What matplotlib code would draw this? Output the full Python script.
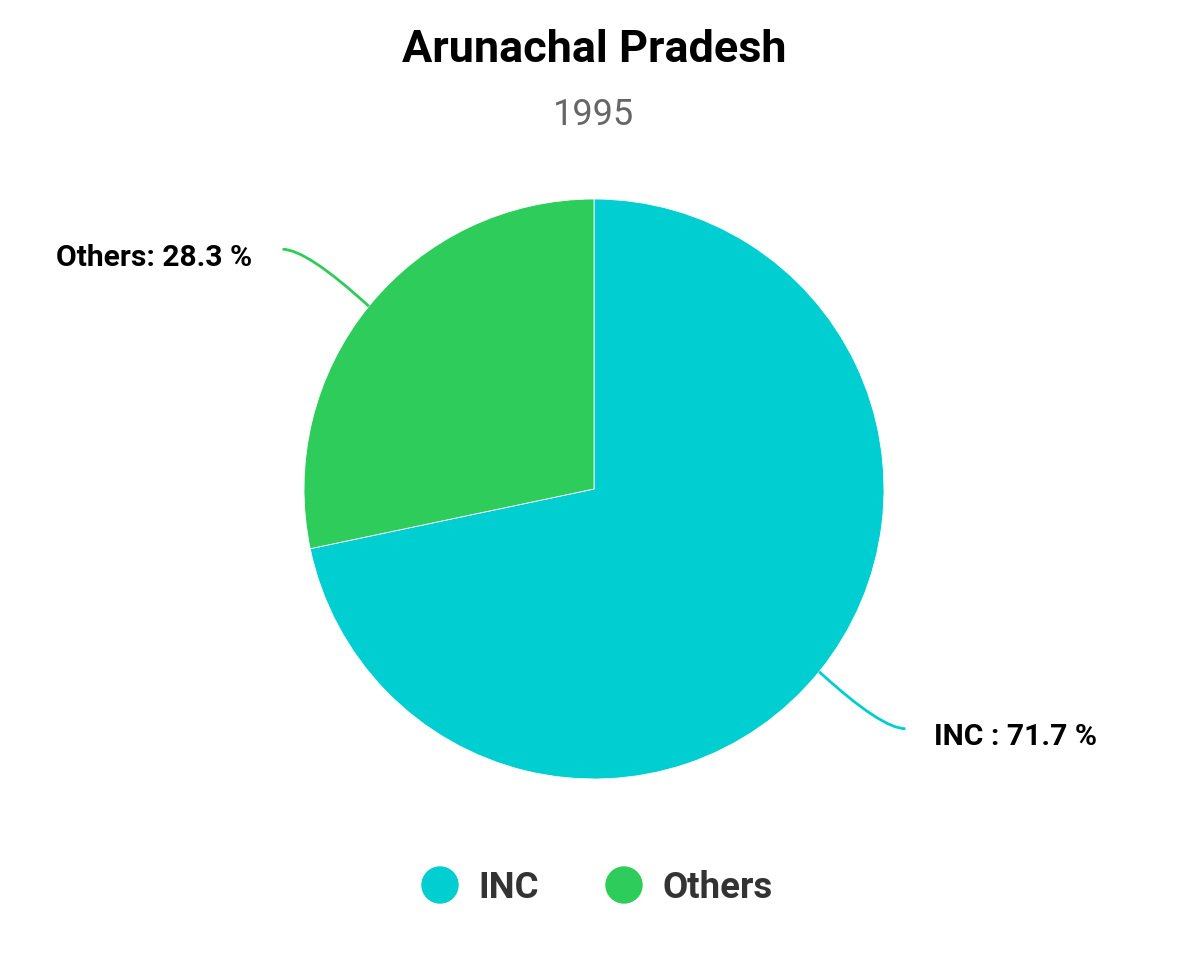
import matplotlib
matplotlib.use("Agg")
import matplotlib.pyplot as plt
from matplotlib.path import Path
from matplotlib.patches import PathPatch, Circle
import numpy as np

title = "Arunachal Pradesh"
subtitle = "1995"
categories = ["INC", "Others"]
values = [71.7, 28.3]
colors = ["#00CED1", "#2ECC5A"]

W, H = 1188, 970
fig = plt.figure(figsize=(W / 100, H / 100), dpi=100)
ax = fig.add_axes([0, 0, 1, 1])

cx, cy, r = 594, H - 490, 290
wedges, _ = ax.pie(values, colors=colors, startangle=90, counterclock=False,
                   center=(cx, cy), radius=r, frame=True,
                   wedgeprops=dict(linewidth=0.6, edgecolor="white"))
ax.set_xlim(0, W)
ax.set_ylim(0, H)
ax.set_aspect("equal")
ax.axis("off")

font = "Roboto"
# labels with curved connectors
for w, cat, val, col in zip(wedges, categories, values, colors):
    mid = np.deg2rad((w.theta1 + w.theta2) / 2)
    p0 = np.array([cx + r * np.cos(mid), cy + r * np.sin(mid)])
    dy = 57
    direction = np.array([np.cos(mid), np.sin(mid)])
    t = dy / abs(direction[1])
    p1 = p0 + direction * t
    side = np.sign(direction[0])
    p2 = np.array([p1[0] + side * 16, p1[1]])
    p1c = np.array([p1[0] - side * 8, p1[1]])
    path = Path([p0, p1c, p2], [Path.MOVETO, Path.CURVE3, Path.CURVE3])
    ax.add_patch(PathPatch(path, fill=False, edgecolor=col, lw=2))
    if side > 0:
        txt = f"{cat} : {val} %"
        ax.text(p2[0] + 29, p2[1] - 7, txt, ha="left", va="center",
                fontsize=21.6, fontweight="bold", family=font, color="#000000")
    else:
        txt = f"{cat}: {val} %"
        ax.text(p2[0] - 30, p2[1] - 8, txt, ha="right", va="center",
                fontsize=21.6, fontweight="bold", family=font, color="#000000")

ax.text(W / 2, H - 50, title, ha="center", va="center", fontsize=32.4,
        fontweight="bold", family=font, color="#000000")
ax.text(W / 2, H - 115, subtitle, ha="center", va="center", fontsize=26,
        family=font, color="#666666")

# legend
leg_x = [440, 624]
leg_y = H - 886
for x, cat, col in zip(leg_x, categories, colors):
    ax.add_patch(Circle((x, leg_y), 18, color=col))
    ax.text(x + 38, leg_y - 2, cat, ha="left", va="center", fontsize=26.4,
            fontweight="bold", family=font, color="#333333")

fig.savefig("out.png", dpi=100, facecolor="white")
